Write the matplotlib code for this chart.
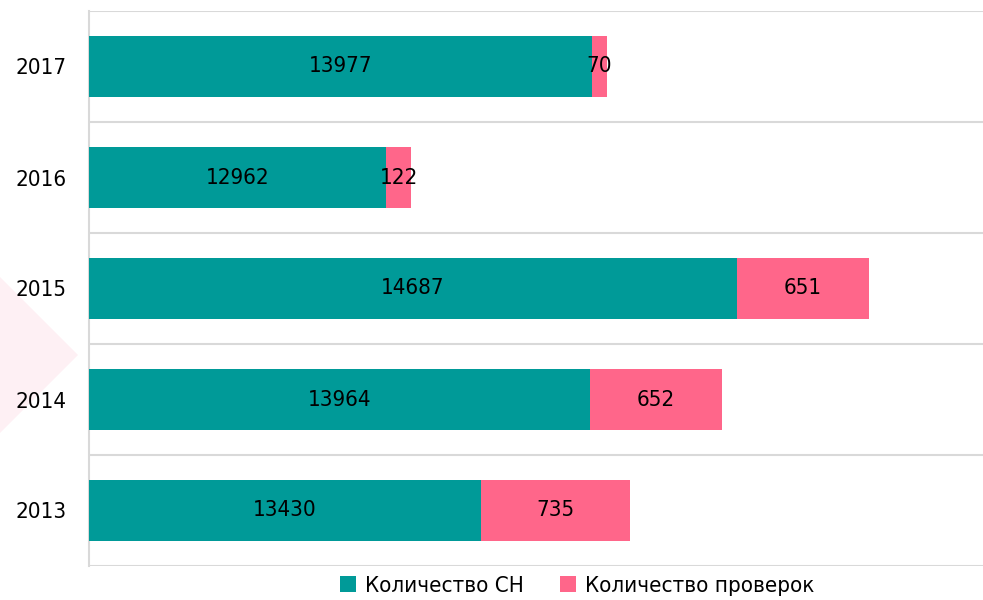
import matplotlib.pyplot as plt
from matplotlib.patches import Polygon
from matplotlib import font_manager

# data
years = ['2013', '2014', '2015', '2016', '2017']
count_sn = [13430, 13964, 14687, 12962, 13977]
count_checks = [735, 652, 651, 122, 70]

teal = '#009A98'
pink = '#FF668A'
grid_col = '#D9D9D9'

# look for a narrow font like Arial Narrow, otherwise use Liberation Sans
narrow = None
for f in font_manager.fontManager.ttflist:
    n = f.name.lower()
    if 'narrow' in n or 'condensed' in n or f.stretch in ('condensed', 'semi-condensed'):
        narrow = f
        break

if narrow is not None:
    plt.rcParams['font.family'] = [narrow.name, 'DejaVu Sans']
    plt.rcParams['font.stretch'] = narrow.stretch
else:
    plt.rcParams['font.family'] = ['Liberation Sans', 'DejaVu Sans']
fs = 16

fig = plt.figure(figsize=(9.83, 6), dpi=100)

# faint pink decoration on the left edge
tri = Polygon([[0, 600 - 277], [78, 600 - 355], [0, 600 - 433]], closed=True,
              transform=None, facecolor='#FEF0F4', edgecolor='none', zorder=0)
fig.patches.append(tri)

ax = fig.add_axes([89 / 983, 1 - 566 / 600, 1 - 89 / 983, (566 - 11) / 600])
ax.set_zorder(2)
ax.patch.set_alpha(0)

y = list(range(len(years)))
xmin = 11500
b1 = ax.barh(y, [v - xmin for v in count_sn], left=xmin, height=0.55,
             color=teal, label='Количество СН', zorder=3)
b2 = ax.barh(y, count_checks, left=count_sn, height=0.55,
             color=pink, label='Количество проверок', zorder=3)

# value labels in the middle of each segment
for i in y:
    ax.text((xmin + count_sn[i]) / 2, i, str(count_sn[i]), ha='center', va='center',
            fontsize=fs, color='black', zorder=4)
    ax.text(count_sn[i] + count_checks[i] / 2, i, str(count_checks[i]), ha='center',
            va='center', fontsize=fs, color='black', zorder=4)

ax.set_xlim(xmin, 15900)
ax.set_ylim(-0.5, 4.5)

# gridlines between categories
for k in range(len(years) + 1):
    ax.axhline(k - 0.5, color=grid_col, lw=1.5, zorder=1)

ax.set_yticks(y)
ax.set_yticklabels(years, fontsize=fs)
ax.tick_params(axis='y', length=0, pad=16)
ax.set_xticks([])

for s in ['top', 'right', 'bottom']:
    ax.spines[s].set_visible(False)
ax.spines['left'].set_color(grid_col)
ax.spines['left'].set_linewidth(1.5)

fig.legend(handles=[b1, b2], loc='center', bbox_to_anchor=(577 / 983, 1 - 586 / 600),
           ncol=2, frameon=False, fontsize=fs, handlelength=0.7, handleheight=0.7,
           handletextpad=0.4, columnspacing=1.65, borderaxespad=0)

fig.savefig('out.png', dpi=100)
